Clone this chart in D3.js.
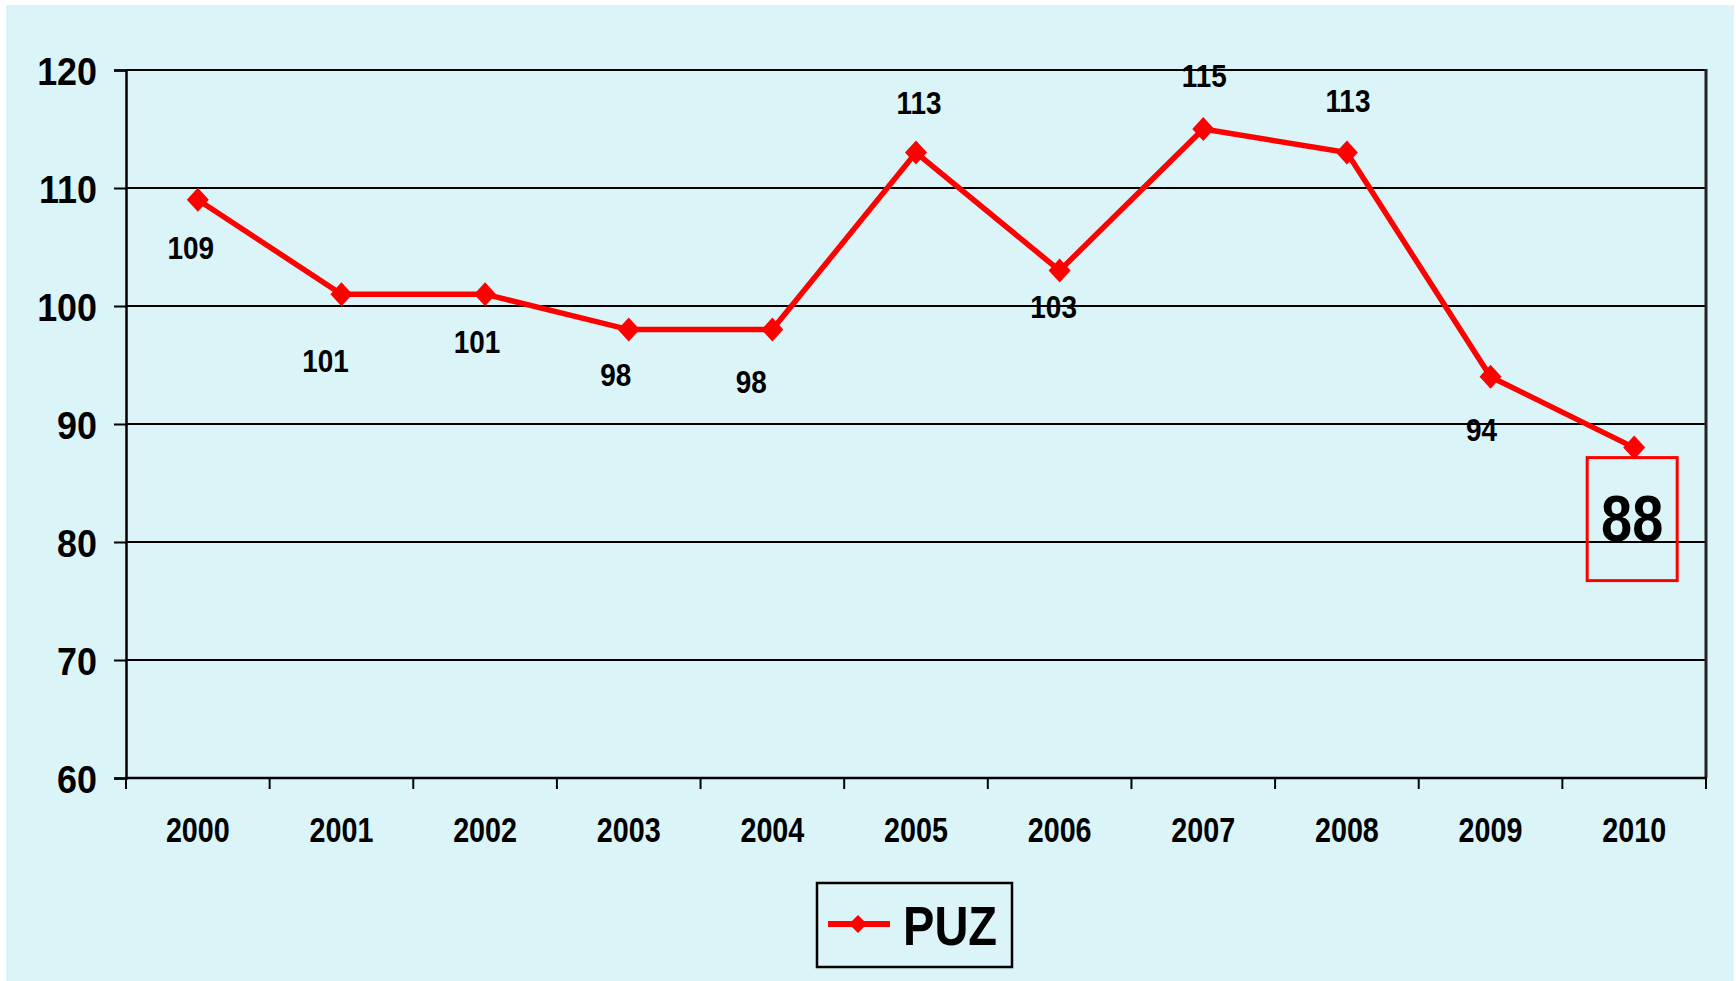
<!DOCTYPE html>
<html>
<head>
<meta charset="utf-8">
<script src="https://cdn.jsdelivr.net/npm/d3@7"></script>
<style>
  body { margin: 0; background: #ffffff; }
  text { font-family: "Liberation Sans", Arial, sans-serif; font-weight: bold; fill: #000; }
</style>
</head>
<body>
<div id="chart"></div>
<script>
// PUZ index by year

// data
var years = ["2000", "2001", "2002", "2003", "2004", "2005", "2006", "2007", "2008", "2009", "2010"];
var puzValues = [109, 101, 101, 98, 98, 113, 103, 115, 113, 94, 88];
var yTicks = [60, 70, 80, 90, 100, 110, 120];
var seriesName = "PUZ";

// label nudges (pixels from the marker), kept apart from the data
var labelNudge = [[-7, 48], [-16, 67], [-8, 48], [-13, 45], [-21, 52], [3, -50], [-6, 36], [1, -53], [1, -52], [-9, 53]];

var W = 1736, H = 981;
var plot = { left: 126, right: 1706, top: 70, bottom: 778 };

// squeeze text horizontally, like a narrow face
function narrow(sel, k) {
    sel.each(function() {
        var len = this.getComputedTextLength();
        d3.select(this)
            .attr("textLength", len * k)
            .attr("lengthAdjust", "spacingAndGlyphs");
    });
}

var svg = d3.select("#chart").append("svg")
    .attr("width", W)
    .attr("height", H);

// light blue panel
svg.append("rect")
    .attr("x", 6).attr("y", 5)
    .attr("width", 1728).attr("height", 976)
    .attr("fill", "#dbf4f8");

// scales
var xScale = d3.scaleBand()
    .domain(years)
    .range([plot.left, plot.right])
    .padding(0);

var yScale = d3.scaleLinear()
    .domain([60, 120])
    .range([plot.bottom, plot.top]);

function cx(d) { return xScale(d) + xScale.bandwidth() / 2; }

// gridlines
svg.append("g")
    .selectAll("line")
    .data(yTicks)
    .enter().append("line")
    .attr("x1", plot.left).attr("x2", plot.right)
    .attr("y1", function(d) { return yScale(d); })
    .attr("y2", function(d) { return yScale(d); })
    .attr("stroke", "#000")
    .attr("stroke-width", 2);

// right border
svg.append("line")
    .attr("x1", plot.right).attr("x2", plot.right)
    .attr("y1", plot.top - 1).attr("y2", plot.bottom)
    .attr("stroke", "#222")
    .attr("stroke-width", 3);

// y axis
var yAxis = d3.axisLeft(yScale)
    .tickValues(yTicks)
    .tickSize(12)
    .tickPadding(17);

var gy = svg.append("g")
    .attr("transform", "translate(" + plot.left + ",0)")
    .call(yAxis);
gy.select(".domain").attr("stroke", "#000").attr("stroke-width", 2.5);
gy.selectAll(".tick line").attr("stroke", "#000").attr("stroke-width", 2);
gy.selectAll(".tick text")
    .attr("font-size", 39)
    .attr("font-family", null)
    .attr("dy", "0.36em")
    .call(narrow, 0.92);

// x axis: line, ticks between categories, labels in the middle
svg.append("line")
    .attr("x1", plot.left).attr("x2", plot.right)
    .attr("y1", plot.bottom).attr("y2", plot.bottom)
    .attr("stroke", "#000").attr("stroke-width", 2.5);

svg.append("g")
    .selectAll("line")
    .data(years.concat(["end"]))
    .enter().append("line")
    .attr("x1", function(d, i) { return i < years.length ? xScale(d) : plot.right; })
    .attr("x2", function(d, i) { return i < years.length ? xScale(d) : plot.right; })
    .attr("y1", plot.bottom)
    .attr("y2", plot.bottom + 11)
    .attr("stroke", "#000")
    .attr("stroke-width", 2);

svg.append("g")
    .selectAll("text")
    .data(years)
    .enter().append("text")
    .attr("x", cx)
    .attr("y", plot.bottom + 64)
    .attr("text-anchor", "middle")
    .attr("font-size", 35)
    .text(function(d) { return d; })
    .call(narrow, 0.82);

// series line
var line = d3.line()
    .x(function(d, i) { return cx(years[i]); })
    .y(function(d) { return yScale(d); });

svg.append("path")
    .datum(puzValues)
    .attr("d", line)
    .attr("fill", "none")
    .attr("stroke", "#ff0000")
    .attr("stroke-width", 5.5)
    .attr("stroke-linejoin", "miter");

var diamond = "M0,-12L11,0L0,12L-11,0Z";

svg.append("g")
    .selectAll("path")
    .data(puzValues)
    .enter().append("path")
    .attr("d", diamond)
    .attr("transform", function(d, i) {
        return "translate(" + cx(years[i]) + "," + yScale(d) + ")";
    })
    .attr("fill", "#ff0000");

// data labels (all but last)
svg.append("g")
    .selectAll("text")
    .data(puzValues.slice(0, puzValues.length - 1))
    .enter().append("text")
    .attr("x", function(d, i) { return cx(years[i]) + labelNudge[i][0]; })
    .attr("y", function(d, i) { return yScale(d) + labelNudge[i][1]; })
    .attr("dy", "0.36em")
    .attr("text-anchor", "middle")
    .attr("font-size", 31)
    .text(function(d) { return d; })
    .call(narrow, 0.9);

// highlighted last value
var last = puzValues.length - 1;
var lx = cx(years[last]) - 2;
svg.append("rect")
    .attr("x", lx - 45).attr("y", yScale(puzValues[last]) + 10)
    .attr("width", 90).attr("height", 123)
    .attr("fill", "none")
    .attr("stroke", "#ff0000")
    .attr("stroke-width", 3);

svg.append("text")
    .attr("x", lx)
    .attr("y", yScale(puzValues[last]) + 70)
    .attr("dy", "0.36em")
    .attr("text-anchor", "middle")
    .attr("font-size", 65)
    .text(puzValues[last])
    .call(narrow, 0.86);

// legend
var legend = svg.append("g").attr("class", "legend");
legend.append("rect")
    .attr("x", 817).attr("y", 883)
    .attr("width", 195).attr("height", 84)
    .attr("fill", "none")
    .attr("stroke", "#000")
    .attr("stroke-width", 2.5);
legend.append("line")
    .attr("x1", 828).attr("x2", 890)
    .attr("y1", 924).attr("y2", 924)
    .attr("stroke", "#ff0000")
    .attr("stroke-width", 6);
legend.append("path")
    .attr("d", "M0,-9L9,0L0,9L-9,0Z")
    .attr("transform", "translate(858,924)")
    .attr("fill", "#ff0000");
legend.append("text")
    .attr("x", 903)
    .attr("y", 945)
    .attr("font-size", 56)
    .text(seriesName)
    .call(narrow, 0.84);
</script>
</body>
</html>
